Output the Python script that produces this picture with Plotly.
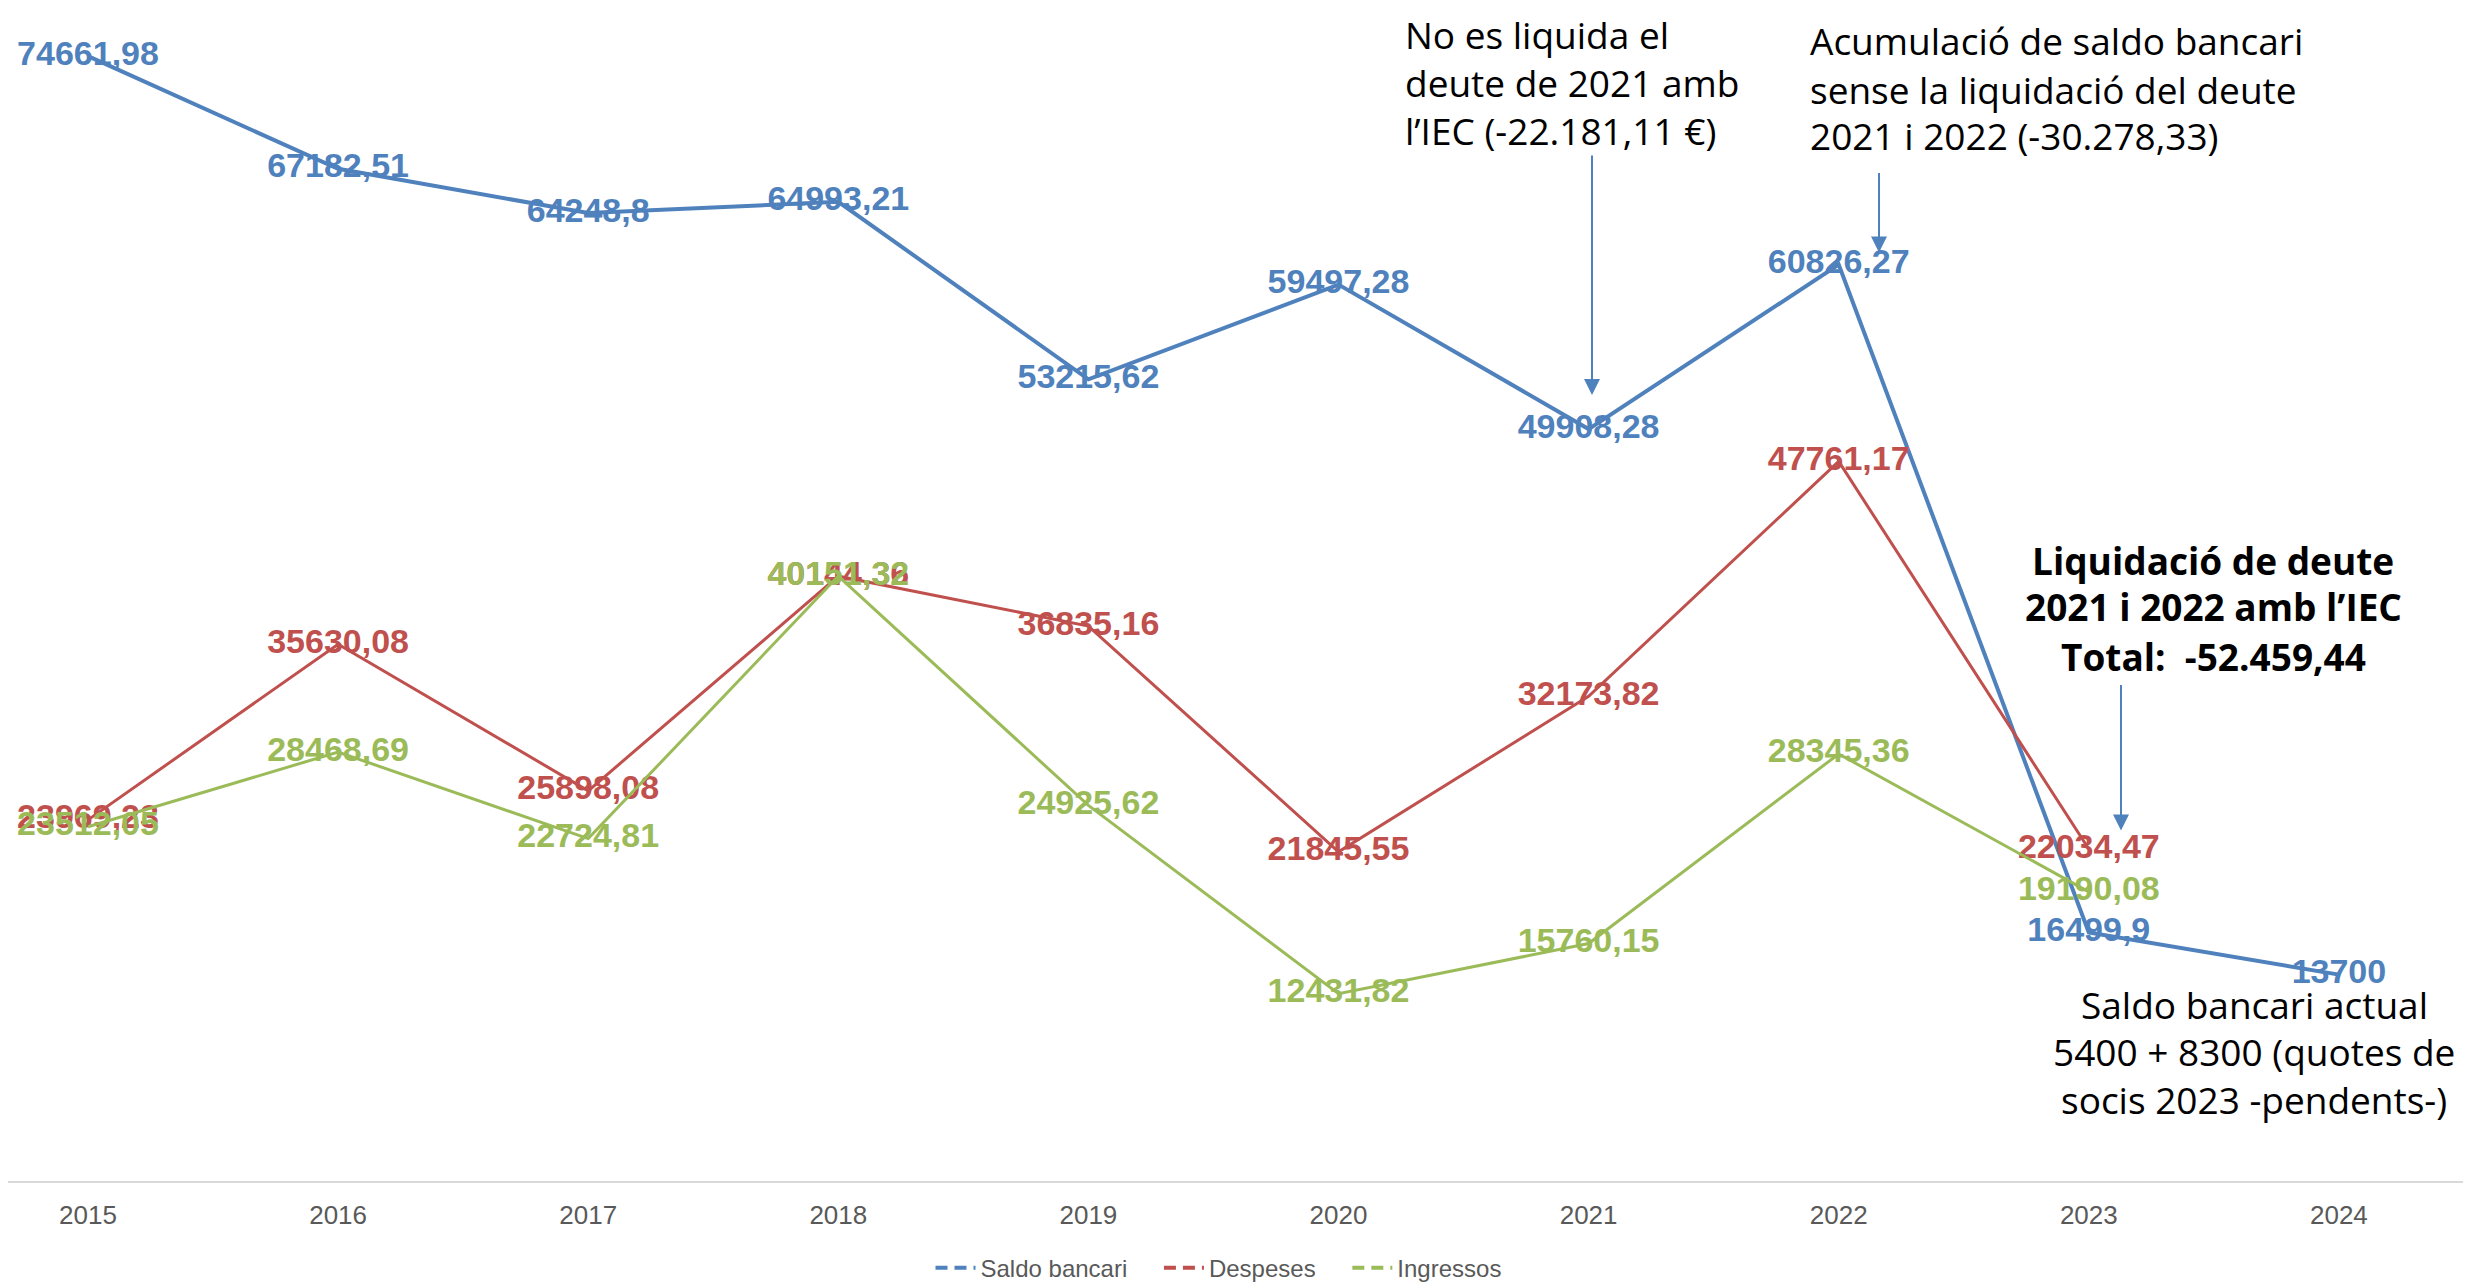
import plotly.graph_objects as go

years = [2015, 2016, 2017, 2018, 2019, 2020, 2021, 2022, 2023, 2024]
saldo = [74661.98, 67182.51, 64248.8, 64993.21, 53215.62, 59497.28, 49908.28, 60826.27, 16499.9, 13700]
despeses = [23969.23, 35630.08, 25898.08, 40144.36, 36835.16, 21845.55, 32173.82, 47761.17, 22034.47, None]
ingressos = [23512.05, 28468.69, 22724.81, 40151.32, 24925.62, 12431.82, 15760.15, 28345.36, 19190.08, None]

series_names = ["Saldo bancari", "Despeses", "Ingressos"]
series_colors = ["#4F81BD", "#C0504D", "#9BBB59"]
series_widths = [4, 3, 3]

SCREEN_W, SCREEN_H = 2471, 1283
OFF_X = 8                    # horizontal page margin
W, H = SCREEN_W - OFF_X, SCREEN_H
AXIS_Y = 1185                # pixel of the x axis line
PLOT_H = AXIS_Y
PX_PER_YEAR = 250.1
X2015 = 88                   # screen pixel of 2015
PX_PER_UNIT = 0.01522

LABEL_FONT = "Liberation Sans, Arial, sans-serif"
NOTE_FONT = "Open Sans, Liberation Sans, sans-serif"
NOTE_SIZE = 37


def fmt(v):
    if v is None:
        return ""
    s = f"{v:.2f}".rstrip("0").rstrip(".")
    return s.replace(".", ",")


def px(x):
    return (x - OFF_X) / W


def py(y):
    return (AXIS_Y - y) / PLOT_H


fig = go.Figure()

for name, vals, col, lw in zip(series_names, [saldo, despeses, ingressos], series_colors, series_widths):
    fig.add_trace(go.Scatter(
        x=years, y=vals, mode="lines+text", name=name,
        line=dict(color=col, width=lw),
        text=[fmt(v) for v in vals], textposition="middle center",
        textfont=dict(family=LABEL_FONT, size=34, color=col, weight="bold"),
        showlegend=False, connectgaps=False, cliponaxis=False,
    ))

# legend entries (dashed line samples, as in the original)
for name, col in zip(series_names, series_colors):
    fig.add_trace(go.Scatter(
        x=[None], y=[None], mode="lines", name=name + "\u00a0\u00a0\u00a0\u00a0",
        line=dict(color=col, width=4, dash="12px,7px"), showlegend=True,
    ))

annotations = []

# top-left note: one block anchored at the top edge of the figure
annotations.append(dict(
    text="No es liquida el<br>deute de 2021 amb<br>l’IEC (-22.181,11 €)",
    xref="paper", yref="paper", x=px(1404), y=1.0, xanchor="left", yanchor="top",
    align="left", showarrow=False, borderpad=0,
    font=dict(family=NOTE_FONT, size=NOTE_SIZE, color="#000000"),
))

note_blocks = [
    (["Acumulació de saldo bancari", "sense la liquidació del deute", "2021 i 2022 (-30.278,33)"],
     1809, [33, 82, 129], "left", False),
    (["Liquidació de deute", "2021 i 2022 amb l’IEC", "Total:  -52.459,44"],
     2213, [558, 605, 655], "center", True),
    (["Saldo bancari actual", "5400 + 8300 (quotes de", "socis 2023 -pendents-)"],
     2254, [1007, 1054, 1103], "center", False),
]

for lines, x0, ys, anchor, bold in note_blocks:
    for line, yc in zip(lines, ys):
        annotations.append(dict(
            text=f"<b>{line}</b>" if bold else line,
            xref="paper", yref="paper", x=px(x0), y=py(yc),
            xanchor=anchor, yanchor="middle", showarrow=False, borderpad=0,
            font=dict(family=NOTE_FONT, size=NOTE_SIZE, color="#000000"),
        ))

arrows = [(1592, 150, 391), (1879, 166, 247), (2121, 684, 831)]
for ax_, y0, y1 in arrows:
    annotations.append(dict(
        xref="paper", yref="paper", x=px(ax_), y=py(y1), text="",
        showarrow=True, ax=0, ay=-(y1 - y0), arrowhead=2, arrowsize=1.6,
        arrowwidth=2, arrowcolor="#4F81BD",
    ))

fig.update_layout(
    width=W, height=H,
    margin=dict(l=0, r=0, t=0, b=H - PLOT_H),
    paper_bgcolor="white", plot_bgcolor="white",
    annotations=annotations,
    showlegend=True,
    legend=dict(orientation="h", x=px(1232), xanchor="center", y=py(1273), yanchor="middle",
                font=dict(family=LABEL_FONT, size=24, color="#595959"),
                itemwidth=40, tracegroupgap=0),
    xaxis=dict(range=[2015 - (X2015 - OFF_X) / PX_PER_YEAR, 2015 + (SCREEN_W - X2015) / PX_PER_YEAR],
               tickvals=years, ticktext=[str(y) for y in years],
               showgrid=False, zeroline=False, showline=True,
               linecolor="#D9D9D9", linewidth=2, ticks="", ticklabelstandoff=10,
               tickfont=dict(family=LABEL_FONT, size=26, color="#595959")),
    yaxis=dict(range=[0, PLOT_H / PX_PER_UNIT], visible=False, showgrid=False, zeroline=False),
)

fig.write_html("out.html")
